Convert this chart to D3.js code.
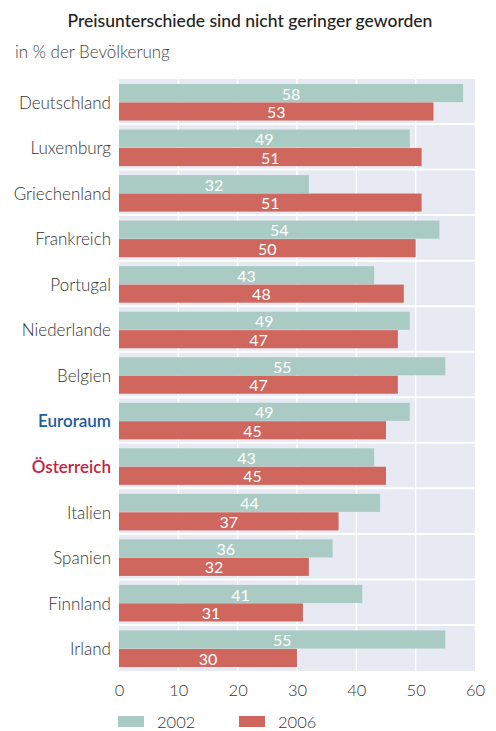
<!DOCTYPE html>
<html lang="de">
  <head>
    <meta charset="utf-8">
    <title>Preisunterschiede</title>
    <script src="https://d3js.org/d3.v7.min.js"></script>
    <style>
      body { margin: 0; background: #fff; }
      text { font-family: Lato, "Open Sans", sans-serif; }
    </style>
  </head>
  <body>
    <script>
      var w = 496, h = 731;
      var margin = {top: 79, right: 21, bottom: 62, left: 119};

      var countries = ["Deutschland", "Luxemburg", "Griechenland", "Frankreich", "Portugal",
                       "Niederlande", "Belgien", "Euroraum", "Österreich", "Italien",
                       "Spanien", "Finnland", "Irland"];
      var v2002 = [58, 49, 32, 54, 43, 49, 55, 49, 43, 44, 36, 41, 55];
      var v2006 = [53, 51, 51, 50, 48, 47, 47, 45, 45, 37, 32, 31, 30];
      var years = ["2002", "2006"];
      var xTicks = [0, 10, 20, 30, 40, 50, 60];

      var colors = {"2002": "#aacbc4", "2006": "#cf675e"};
      var labelColor = {"Euroraum": "#1b5c9e", "Österreich": "#c7203f"};

      var svg = d3.select("body").append("svg")
                  .attr("width", w)
                  .attr("height", h);

      var x = d3.scaleLinear()
                .domain([0, 60])
                .range([margin.left, w - margin.right]);

      var y = d3.scaleBand()
                .domain(countries)
                .range([margin.top, h - margin.bottom + 2]);

      var ySub = d3.scaleBand()
                   .domain(years)
                   .range([5, y.bandwidth() - 4])
                   .paddingInner(0.02);

      // plot background
      svg.append("rect")
         .attr("x", x(0))
         .attr("y", margin.top)
         .attr("width", x(60) - x(0))
         .attr("height", y.range()[1] - margin.top)
         .attr("fill", "#e7e9f3");

      // vertical grid
      svg.selectAll(".grid")
         .data(xTicks.slice(1, -1))
         .enter().append("line")
         .attr("x1", d => x(d)).attr("x2", d => x(d))
         .attr("y1", margin.top).attr("y2", y.range()[1])
         .attr("stroke", "#fff").attr("stroke-width", 1.5);

      // group separators
      svg.selectAll(".sep")
         .data(countries.slice(1))
         .enter().append("line")
         .attr("x1", x(0)).attr("x2", x(60))
         .attr("y1", d => y(d) - 0.5).attr("y2", d => y(d) - 0.5)
         .attr("stroke", "#fff").attr("stroke-width", 2);

      var rows = countries.map((c, i) => ({country: c, values: [
        {year: "2002", value: v2002[i]},
        {year: "2006", value: v2006[i]}
      ]}));

      var g = svg.selectAll(".row")
                 .data(rows)
                 .enter().append("g")
                 .attr("transform", d => "translate(0," + y(d.country) + ")");

      g.selectAll("rect")
       .data(d => d.values)
       .enter().append("rect")
       .attr("x", x(0))
       .attr("y", d => ySub(d.year))
       .attr("width", d => x(d.value) - x(0))
       .attr("height", ySub.bandwidth())
       .attr("fill", d => colors[d.year]);

      g.selectAll(".val")
       .data(d => d.values)
       .enter().append("text")
       .attr("x", d => (x(d.value) + x(0)) / 2)
       .attr("y", d => ySub(d.year) + ySub.bandwidth() / 2 + 1)
       .attr("dy", "0.35em")
       .attr("text-anchor", "middle")
       .attr("fill", "#fff")
       .attr("font-size", 16)
       .text(d => d.value);

      // category labels
      g.append("text")
       .attr("x", x(0) - 8)
       .attr("y", y.bandwidth() / 2 + 1)
       .attr("dy", "0.35em")
       .attr("text-anchor", "end")
       .attr("font-size", 17)
       .attr("font-weight", d => labelColor[d.country] ? 600 : 300)
       .attr("fill", d => labelColor[d.country] || "#333")
       .text(d => d.country);

      // x axis
      var xAxis = d3.axisBottom(x).tickValues(xTicks).tickSize(0).tickPadding(0);
      var ax = svg.append("g")
                  .attr("transform", "translate(0," + (y.range()[1] + 13) + ")")
                  .call(xAxis);
      ax.select(".domain").remove();
      ax.selectAll("text")
        .attr("font-size", 16.5)
        .attr("font-weight", 300)
        .attr("font-family", "Lato, 'Open Sans', sans-serif")
        .attr("fill", "#333");

      // title
      svg.append("text")
         .attr("x", 250).attr("y", 27)
         .attr("text-anchor", "middle")
         .attr("font-size", 17.5)
         .attr("font-weight", 500)
         .attr("fill", "#222")
         .text("Preisunterschiede sind nicht geringer geworden");

      svg.append("text")
         .attr("x", 15).attr("y", 58)
         .attr("font-size", 17)
         .attr("font-weight", 300)
         .attr("fill", "#444")
         .text("in % der Bevölkerung");

      // legend
      var leg = svg.selectAll(".leg")
                   .data(years)
                   .enter().append("g")
                   .attr("transform", (d, i) => "translate(" + (118 + i * 121) + ",716)");
      leg.append("rect")
         .attr("width", 26).attr("height", 11)
         .attr("fill", d => colors[d]);
      leg.append("text")
         .attr("x", 39).attr("y", 6)
         .attr("dy", "0.35em")
         .attr("font-size", 16.5)
         .attr("font-weight", 300)
         .attr("fill", "#333")
         .text(d => d);
    </script>
  </body>
</html>
